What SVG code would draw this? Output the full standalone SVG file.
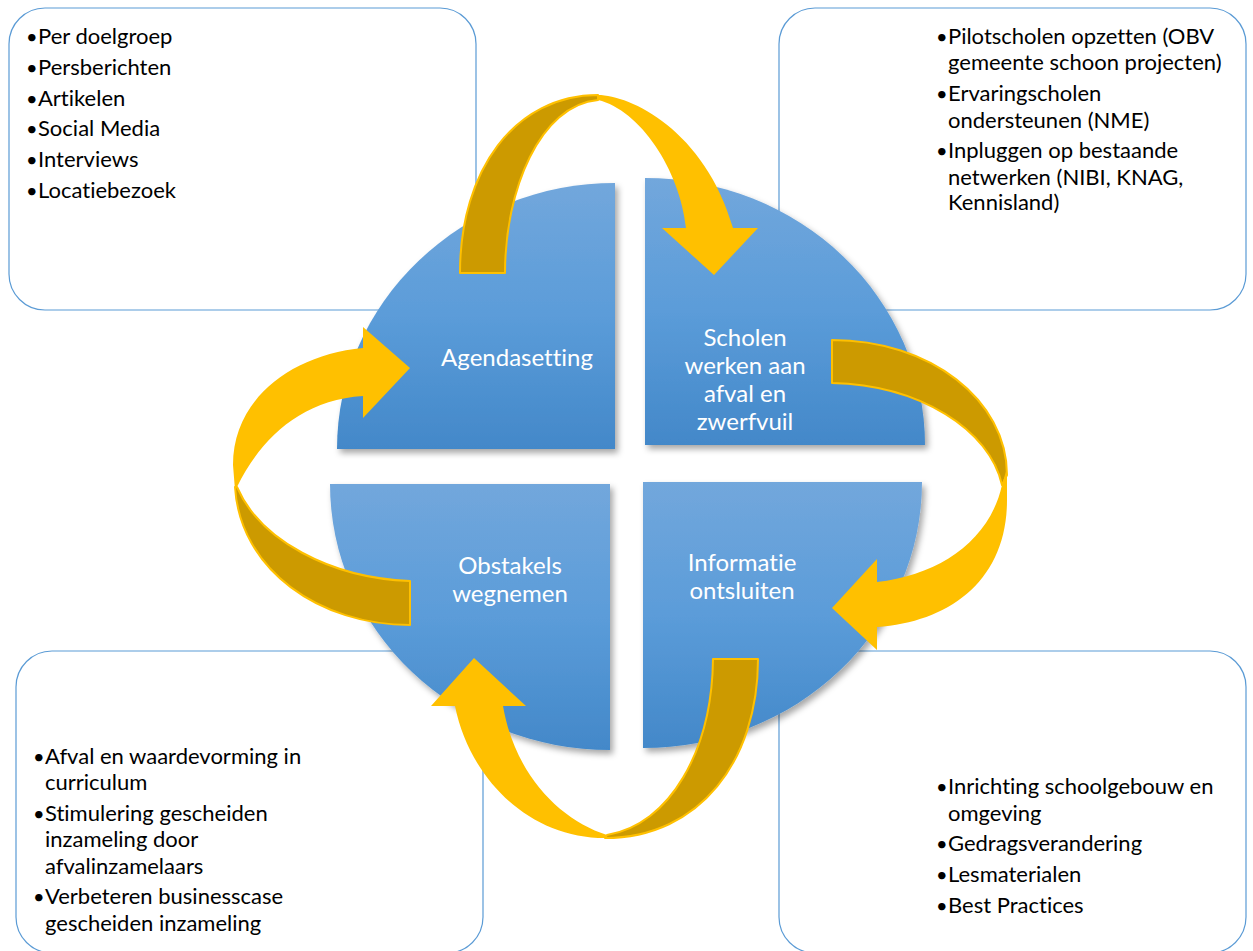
<svg xmlns="http://www.w3.org/2000/svg" width="1253" height="951" viewBox="0 0 1253 951">
<defs>
<linearGradient id="qgrad" x1="0" y1="0" x2="0" y2="1">
<stop offset="0" stop-color="#72a7dc"/>
<stop offset="0.5" stop-color="#5b9cd9"/>
<stop offset="1" stop-color="#4388c9"/>
</linearGradient>
<filter id="shadow" x="-10%" y="-10%" width="125%" height="125%">
<feDropShadow dx="3" dy="4" stdDeviation="3" flood-color="#000" flood-opacity="0.35"/>
</filter>
<style>
.box{fill:#fff;stroke:#5b9bd5;stroke-width:1.2}
.bt{font-family:Lato,"Liberation Sans",sans-serif;font-size:22px;fill:#000;font-variant-ligatures:none}
.bl{font-family:Lato,"Liberation Sans",sans-serif;font-size:20px;fill:#000}
.quad{fill:url(#qgrad);filter:url(#shadow)}
.qt{font-family:Lato,"Liberation Sans",sans-serif;font-size:24px;fill:#fff;text-anchor:middle;font-variant-ligatures:none}
.dark{fill:#cc9a00;stroke:#ffc000;stroke-width:2;stroke-linejoin:round}
.bright{fill:#ffc000}
</style>
</defs>
<rect width="1253" height="951" fill="#fff"/>
<g id="box-tl">
<rect class="box" x="9" y="8" width="467" height="302" rx="36"/>
<text class="bl"><tspan x="26" y="44">•</tspan><tspan x="26" y="75">•</tspan><tspan x="26" y="106">•</tspan><tspan x="26" y="136">•</tspan><tspan x="26" y="167">•</tspan><tspan x="26" y="198">•</tspan></text>
<text class="bt"><tspan x="38" y="44">Per doelgroep</tspan>
<tspan x="38" y="75">Persberichten</tspan>
<tspan x="38" y="106">Artikelen</tspan>
<tspan x="38" y="136">Social Media</tspan>
<tspan x="38" y="167">Interviews</tspan>
<tspan x="38" y="198">Locatiebezoek</tspan></text>
</g>
<g id="box-tr">
<rect class="box" x="779" y="8" width="467" height="302" rx="36"/>
<text class="bl"><tspan x="936" y="44">•</tspan><tspan x="936" y="101">•</tspan><tspan x="936" y="158">•</tspan></text>
<text class="bt"><tspan x="948" y="44">Pilotscholen opzetten (OBV</tspan>
<tspan x="948" y="70">gemeente schoon projecten)</tspan>
<tspan x="948" y="101">Ervaringscholen</tspan>
<tspan x="948" y="128">ondersteunen (NME)</tspan>
<tspan x="948" y="158">Inpluggen op bestaande</tspan>
<tspan x="948" y="185">netwerken (NIBI, KNAG,</tspan>
<tspan x="948" y="210">Kennisland)</tspan></text>
</g>
<g id="box-bl">
<rect class="box" x="16" y="651" width="467" height="302" rx="36"/>
<text class="bl"><tspan x="33" y="764">•</tspan><tspan x="33" y="821">•</tspan><tspan x="33" y="904">•</tspan></text>
<text class="bt"><tspan x="45" y="764">Afval en waardevorming in</tspan>
<tspan x="45" y="790">curriculum</tspan>
<tspan x="45" y="821">Stimulering gescheiden</tspan>
<tspan x="45" y="847">inzameling door</tspan>
<tspan x="45" y="874">afvalinzamelaars</tspan>
<tspan x="45" y="904">Verbeteren businesscase</tspan>
<tspan x="45" y="931">gescheiden inzameling</tspan></text>
</g>
<g id="box-br">
<rect class="box" x="779" y="651" width="467" height="302" rx="36"/>
<text class="bl"><tspan x="936" y="794">•</tspan><tspan x="936" y="851">•</tspan><tspan x="936" y="882">•</tspan><tspan x="936" y="913">•</tspan></text>
<text class="bt"><tspan x="948" y="794">Inrichting schoolgebouw en</tspan>
<tspan x="948" y="821">omgeving</tspan>
<tspan x="948" y="851">Gedragsverandering</tspan>
<tspan x="948" y="882">Lesmaterialen</tspan>
<tspan x="948" y="913">Best Practices</tspan></text>
</g>
<g id="node-agendasetting">
<path class="quad" d="M615,183 L615,449 L337,449 A278,266 0 0 1 615,183 Z"/>
<text class="qt" x="517" y="366">Agendasetting</text>
</g>
<g id="node-scholen">
<path class="quad" d="M645,178 A280,267 0 0 1 925,445 L645,445 Z"/>
<text class="qt" x="745" y="346">Scholen</text>
<text class="qt" x="745" y="374">werken aan</text>
<text class="qt" x="745" y="402">afval en</text>
<text class="qt" x="745" y="430">zwerfvuil</text>
</g>
<g id="node-obstakels">
<path class="quad" d="M330,484 L610,484 L610,750 A280,266 0 0 1 330,484 Z"/>
<text class="qt" x="510" y="574">Obstakels</text>
<text class="qt" x="510" y="602">wegnemen</text>
</g>
<g id="node-informatie">
<path class="quad" d="M643,482 L922,482 A279,266 0 0 1 643,748 Z"/>
<text class="qt" x="742" y="571">Informatie</text>
<text class="qt" x="742" y="599">ontsluiten</text>
</g>
<g id="connectors">
<g id="arrow-top">
<path class="dark" d="M460,273 C460,170 515,95 598,95 L598,100 C540,105 505,190 505,273 Z"/>
<path class="bright" d="M598,95 C630,95 705,130 733,228 L758,228 L714,275 L662,228 L686,228 C680,170 640,110 598,100 Z"/>
</g>
<g id="arrow-right">
<path class="dark" d="M832,340 C930,340 1007,400 1007,475 L1002,485 C990,430 920,385 832,383 Z"/>
<path class="bright" d="M1007,468 L1007,500 C1007,580 950,622 877,627 L877,650 L832,608 L877,559 L877,582 C940,575 990,540 1002,485 Z"/>
</g>
<g id="arrow-bottom">
<path class="dark" d="M758,659 C758,760 700,838 605,838 L607,835 C670,825 712,750 713,659 Z"/>
<path class="bright" d="M605,838 C530,838 470,780 455,706 L431,706 L474,658 L526,706 L503,706 C515,775 560,820 607,835 Z"/>
</g>
<g id="arrow-left">
<path class="dark" d="M410,625 C320,625 240,570 235,487 L237,487 C260,540 330,578 410,581 Z"/>
<path class="bright" d="M235,490 L233,465 C233,400 290,355 363,348 L363,327 L410,368 L363,418 L363,396 C300,400 260,440 237,487 Z"/>
</g>
</g>
</svg>
